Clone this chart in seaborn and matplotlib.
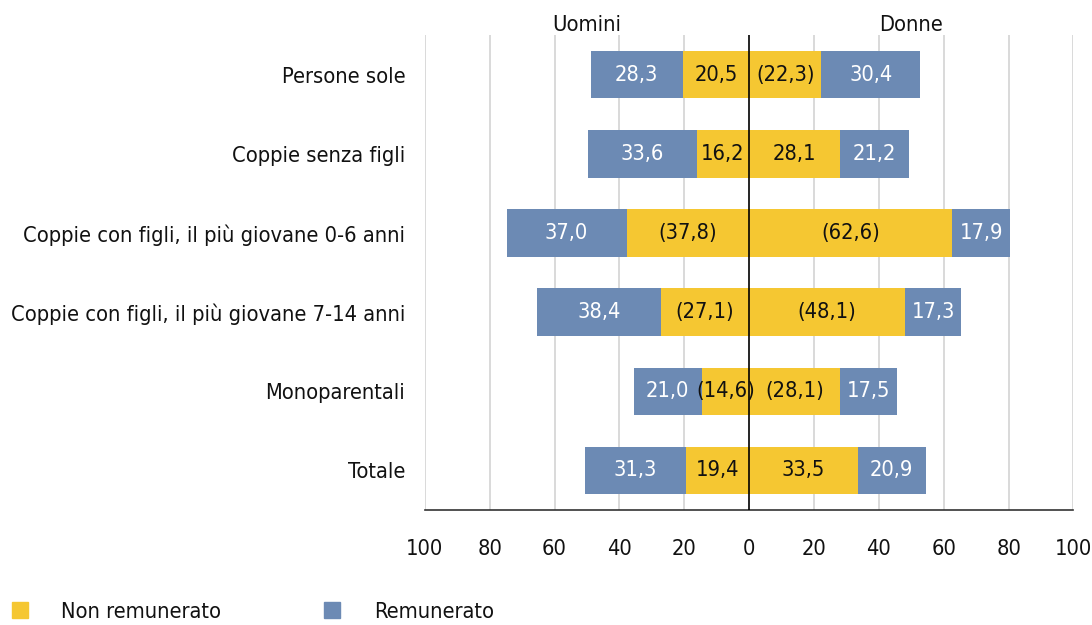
import numpy as np
import pandas as pd
import matplotlib
matplotlib.use('Agg')
import matplotlib.pyplot as plt
import seaborn as sns
from matplotlib.lines import Line2D
from matplotlib import font_manager as fm

categories = ['Persone sole', 'Coppie senza figli', 'Coppie con figli, il più giovane 0-6 anni',
              'Coppie con figli, il più giovane 7-14 anni', 'Monoparentali', 'Totale']
men_unpaid = [20.5, 16.2, 37.8, 27.1, 14.6, 19.4]
men_paid = [28.3, 33.6, 37.0, 38.4, 21.0, 31.3]
women_unpaid = [22.3, 28.1, 62.6, 48.1, 28.1, 33.5]
women_paid = [30.4, 21.2, 17.9, 17.3, 17.5, 20.9]
# values shown in brackets in the source
men_unpaid_flag = [False, False, True, True, True, False]
women_unpaid_flag = [True, False, True, True, True, False]

YELLOW = '#F5C732'
BLUE = '#6C8AB4'
TXT = '#111111'

sns.set_style('white')

# pick a narrow face if there is one
narrow = [f for f in fm.fontManager.ttflist
          if ('Narrow' in f.name or 'Condensed' in f.name or f.stretch in ('condensed', 'semi-condensed'))
          and f.style == 'normal' and f.weight in (400, 'normal', 'regular')]
if narrow:
    plt.rcParams['font.family'] = [narrow[0].name, 'DejaVu Sans']
    plt.rcParams['font.stretch'] = narrow[0].stretch
else:
    plt.rcParams['font.family'] = ['DejaVu Sans']

# fit the longest label into ~395 px
fig = plt.figure(figsize=(10.92, 6.25), dpi=100)
r = fig.canvas.get_renderer()
probe = fig.text(0, 0, categories[3], fontsize=20)
w = probe.get_window_extent(renderer=r).width
probe.remove()
FS = min(20, 20 * 395 / w)

df = pd.DataFrame({
    'cat': categories,
    'men_tot': -(np.array(men_unpaid) + np.array(men_paid)),
    'men_unp': -np.array(men_unpaid),
    'wom_tot': np.array(women_unpaid) + np.array(women_paid),
    'wom_unp': np.array(women_unpaid),
})

ax = fig.add_axes([0.389, 0.184, 0.594, 0.76])

for i in np.arange(-100, 101, 20):
    if i != 0:
        ax.axvline(i, color='#D3D3D3', lw=1.2, zorder=0)

for col, colr in [('men_tot', BLUE), ('wom_tot', BLUE), ('men_unp', YELLOW), ('wom_unp', YELLOW)]:
    sns.barplot(data=df, x=col, y='cat', orient='h', color=colr, width=0.6,
                saturation=1, linewidth=0, edgecolor='none', ax=ax, zorder=2)

ax.axvline(0, color='black', lw=1.2, zorder=4)

def fmt(v, br):
    s = f'{v:.1f}'.replace('.', ',')
    return f'({s})' if br else s

for i in range(len(categories)):
    mu, mp, wu, wp = men_unpaid[i], men_paid[i], women_unpaid[i], women_paid[i]
    ax.text(-mu / 2, i, fmt(mu, men_unpaid_flag[i]), ha='center', va='center',
            fontsize=FS, color=TXT, zorder=5)
    ax.text(-(mu + mp / 2), i, fmt(mp, False), ha='center', va='center',
            fontsize=FS, color='white', zorder=5)
    ax.text(wu / 2, i, fmt(wu, women_unpaid_flag[i]), ha='center', va='center',
            fontsize=FS, color=TXT, zorder=5)
    ax.text(wu + wp / 2, i, fmt(wp, False), ha='center', va='center',
            fontsize=FS, color='white', zorder=5)

ax.set_xlim(-100, 100)
ax.set_ylim(5.5, -0.5)
ax.set_xticks(np.arange(-100, 101, 20))
ax.set_xticklabels([str(abs(t)) for t in range(-100, 101, 20)], fontsize=FS, color=TXT)
ax.tick_params(axis='x', direction='out', length=14, width=1.2, color='#333333', pad=7)
ax.tick_params(axis='y', length=0, labelsize=FS, labelcolor=TXT, pad=14)
ax.set_xlabel('')
ax.set_ylabel('')
for s in ['top', 'left', 'right']:
    ax.spines[s].set_visible(False)
ax.spines['bottom'].set_color('#333333')
ax.spines['bottom'].set_linewidth(1.2)

ax.text(-50, 1.0, 'Uomini', transform=ax.get_xaxis_transform(), ha='center', va='bottom',
        fontsize=FS, color=TXT)
ax.text(50, 1.0, 'Donne', transform=ax.get_xaxis_transform(), ha='center', va='bottom',
        fontsize=FS, color=TXT)

handles = [Line2D([], [], marker='s', ls='', color=YELLOW, markersize=11),
           Line2D([], [], marker='s', ls='', color=BLUE, markersize=11)]
fig.legend(handles, ['Non remunerato', 'Remunerato'], loc='center left',
           bbox_to_anchor=(0.008, 0.021), ncol=2, frameon=False, fontsize=FS,
           labelcolor=TXT, borderpad=0, borderaxespad=0, handlelength=1,
           handletextpad=1.4, columnspacing=4.6)

fig.savefig('out.png', dpi=100)
